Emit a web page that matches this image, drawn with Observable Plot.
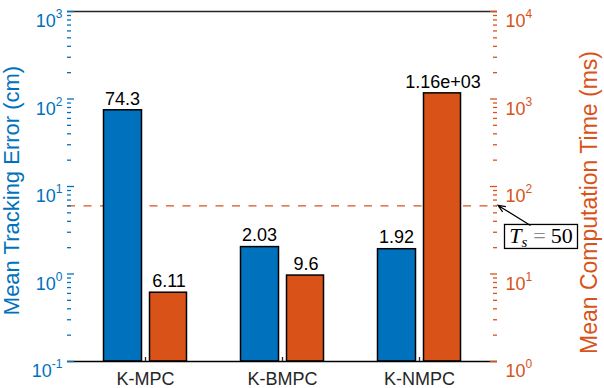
<!DOCTYPE html>
<html><head><meta charset="utf-8">
<script src="https://cdn.jsdelivr.net/npm/d3@7"></script>
<script src="https://cdn.jsdelivr.net/npm/@observablehq/plot@0.6"></script>
<style>body{margin:0;background:#fff} #chart svg{display:block}</style>
</head><body><div id="chart"></div>
<script>
const methods = ["K-MPC", "K-BMPC", "K-NMPC"];
const trackingError = [74.3, 2.03, 1.92];
const computationTime = [6.11, 9.6, 1160];
const errorLabels = ["74.3", "2.03", "1.92"];
const timeLabels = ["6.11", "9.6", "1.16e+03"];
const leftDomain = [0.1, 1000];
const rightDomain = [1, 10000];
const sampleLineMs = 60;
const sampleLabel = "T_s = 50";
const leftTitle = "Mean Tracking Error (cm)";
const rightTitle = "Mean Computation Time (ms)";

const blue = "#0072BD", orange = "#D95319", dark = "#262626";
const k = leftDomain[1] / rightDomain[1];
const rows = methods.map((m, i) => ({method: m, err: trackingError[i], time: computationTime[i] * k,
  errLabel: errorLabels[i], timeLabel: timeLabels[i]}));

const allTicks = d3.scaleLog().domain(leftDomain).ticks();
const isMajor = v => Math.abs(Math.log10(v) - Math.round(Math.log10(v))) < 1e-9;
const major = allTicks.filter(isMajor);
const minor = allTicks.filter(v => !isMajor(v));
const expo = v => Math.round(Math.log10(v));
const rightExpo = v => Math.round(Math.log10(v / k));

const W = 604, H = 388, mL = 67, mR = 107, mT = 11, mB = 27;
const plotW = W - mL - mR, plotH = H - mT - mB;
const font = "'Liberation Sans', Arial, Helvetica, sans-serif";

const chart = Plot.plot({
  width: W, height: H, marginLeft: mL, marginRight: mR, marginTop: mT, marginBottom: mB,
  style: {fontFamily: font, background: "#fff", overflow: "visible"},
  x: {domain: methods, paddingInner: 0.387, paddingOuter: 0.259, axis: null},
  y: {type: "log", domain: leftDomain, axis: null},
  marks: [
    Plot.ruleY([sampleLineMs * k], {stroke: orange, strokeWidth: 1.2, strokeDasharray: "8,8.5"}),
    Plot.barY(rows, {x: "method", y1: () => leftDomain[0], y2: "err", fill: blue, stroke: "#000", strokeWidth: 1.5, insetLeft: 0.5, insetRight: 45.5}),
    Plot.barY(rows, {x: "method", y1: () => leftDomain[0], y2: "time", fill: orange, stroke: "#000", strokeWidth: 1.5, insetLeft: 46.5, insetRight: 0.5}),
    Plot.text(rows, {x: "method", y: "err", text: "errLabel", dx: -23, dy: -11.5, fontSize: 18, fill: "#000"}),
    Plot.text(rows, {x: "method", y: "time", text: "timeLabel", dx: 23.5, dy: -11.5, fontSize: 18, fill: "#000"}),
    Plot.ruleY([leftDomain[1]], {stroke: dark, strokeWidth: 1.3}),
    Plot.ruleY([leftDomain[0]], {stroke: "#000", strokeWidth: 1.3}),
    Plot.tickX(methods, {x: d => d, stroke: dark, strokeWidth: 1.3, insetTop: plotH - 4}),
    Plot.axisX({anchor: "bottom", tickSize: 0, tickPadding: 11, fontSize: 18, fill: dark, label: null}),
    Plot.axisY({anchor: "left", ticks: major, tickSize: 0, tickPadding: 5, line: true, stroke: blue, fill: blue, strokeWidth: 1.3,
      fontSize: 18, tickFormat: v => `10^${expo(v)}`, label: null}),
    Plot.tickY(major, {y: d => d, stroke: blue, strokeWidth: 1.3, insetRight: plotW - 7}),
    Plot.tickY(minor, {y: d => d, stroke: blue, strokeWidth: 1.3, insetRight: plotW - 4}),
    Plot.axisY({anchor: "right", ticks: major, tickSize: 0, tickPadding: 8, line: true, stroke: orange, fill: orange, strokeWidth: 1.3,
      fontSize: 18, tickFormat: v => `10^${rightExpo(v)}`, label: null}),
    Plot.tickY(major, {y: d => d, stroke: orange, strokeWidth: 1.3, insetLeft: plotW - 7}),
    Plot.tickY(minor, {y: d => d, stroke: orange, strokeWidth: 1.3, insetLeft: plotW - 4}),
    Plot.text([leftTitle], {frameAnchor: "left", textAnchor: "middle", rotate: -90, dx: -56, dy: 4, fill: blue, fontSize: 22}),
    Plot.text([rightTitle], {frameAnchor: "right", textAnchor: "middle", rotate: -90, dx: 92, dy: 16, fill: orange, fontSize: 23}),
    Plot.text([sampleLabel], {frameAnchor: "right", textAnchor: "middle", y: () => sampleLineMs * k, dx: 43.5, dy: 30, fontSize: 22,
      fontFamily: "'Liberation Serif', 'DejaVu Serif', serif", fill: "#000"})
  ]
});
document.getElementById("chart").appendChild(chart);

const root = d3.select(chart);
root.selectAll('g[aria-label="y-axis tick label"] text').each(function() {
  const t = d3.select(this);
  const [base, e] = t.text().split("^");
  t.text(null).attr("dy", "0.55em").attr("font-size", 18);
  t.append("tspan").attr("font-size", 18).text(base);
  t.append("tspan").attr("dy", -9).attr("font-size", 12).text(e);
});

const tsNode = root.selectAll("text").filter(function() { return this.textContent === sampleLabel; }).node();
if (tsNode) {
  const ts = d3.select(tsNode);
  const m = sampleLabel.match(/^(\w)_(\w)\s*(=)\s*(.*)$/);
  ts.text(null);
  ts.append("tspan").attr("font-style", "italic").text(m[1]);
  ts.append("tspan").attr("font-style", "italic").attr("font-size", 15).attr("dy", 4).text(m[2]);
  ts.append("tspan").attr("dy", -4).attr("dx", 6).attr("fill", "#8a8a8a").text(m[3]);
  ts.append("tspan").attr("dx", 5).text(m[4]);
  const bb = tsNode.getBBox();
  const rect = d3.select(tsNode.parentNode).insert("rect", () => tsNode)
    .attr("transform", ts.attr("transform"))
    .attr("x", bb.x + bb.width / 2 - 36.5).attr("y", bb.y + bb.height / 2 - 12).attr("width", 73).attr("height", 24)
    .attr("fill", "#fff").attr("stroke", "#000").attr("stroke-width", 1.3);
  const rectBox = rect.node().getBoundingClientRect();
  const svgBox = chart.getBoundingClientRect();
  const bx = rectBox.left - svgBox.left, by = rectBox.top - svgBox.top;
  const yLine = d3.scaleLog().domain(leftDomain).range([H - mB, mT])(sampleLineMs * k);
  const x1 = bx + 26, y1 = by + 1, x2 = mL + plotW + 1, y2 = yLine;
  const ang = Math.atan2(y1 - y2, x1 - x2);
  const hl = 8, ha = 0.4;
  root.append("path")
    .attr("d", `M${x1},${y1}L${x2},${y2}M${x2 + hl * Math.cos(ang + ha)},${y2 + hl * Math.sin(ang + ha)}L${x2},${y2}L${x2 + hl * Math.cos(ang - ha)},${y2 + hl * Math.sin(ang - ha)}`)
    .attr("fill", "none").attr("stroke", "#000").attr("stroke-width", 1.2);
}
</script>
</body></html>
